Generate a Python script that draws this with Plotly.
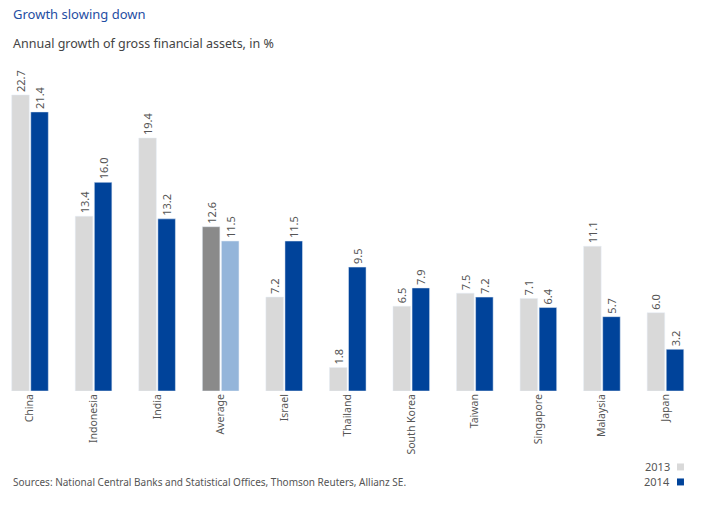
import plotly.graph_objects as go

categories = ["China", "Indonesia", "India", "Average", "Israel", "Thailand",
              "South Korea", "Taiwan", "Singapore", "Malaysia", "Japan"]
values_2013 = [22.7, 13.4, 19.4, 12.6, 7.2, 1.8, 6.5, 7.5, 7.1, 11.1, 6.0]
values_2014 = [21.4, 16.0, 13.2, 11.5, 11.5, 9.5, 7.9, 7.2, 6.4, 5.7, 3.2]
series_names = ["2013", "2014"]

C13, C14 = "#d9d9d9", "#00439a"
AVG13, AVG14 = "#8a8a8a", "#94b5da"
colors_2013 = [AVG13 if c == "Average" else C13 for c in categories]
colors_2014 = [AVG14 if c == "Average" else C14 for c in categories]

FONT = "Noto Sans"
TXT = "#555555"

fig = go.Figure()
fig.add_trace(go.Bar(name=series_names[0], x=categories, y=values_2013, marker_color=colors_2013,
                     texttemplate="%{y:.1f}", textposition="outside", textangle=-90,
                     constraintext="none", cliponaxis=False,
                     textfont=dict(family=FONT, size=11, color=TXT)))
fig.add_trace(go.Bar(name=series_names[1], x=categories, y=values_2014, marker_color=colors_2014,
                     texttemplate="%{y:.1f}", textposition="outside", textangle=-90,
                     constraintext="none", cliponaxis=False,
                     textfont=dict(family=FONT, size=11, color=TXT)))

annotations = [
    dict(text="Growth slowing down", xref="paper", yref="paper", x=0.016, y=1.156,
         xanchor="left", yanchor="middle", showarrow=False,
         font=dict(family=FONT, size=13, color="#1f4ea3")),
    dict(text="Annual growth of gross financial assets, in %", xref="paper", yref="paper",
         x=0.016, y=1.067, xanchor="left", yanchor="middle", showarrow=False,
         font=dict(family=FONT, size=12.5, color="#444444")),
    dict(text="Sources: National Central Banks and Statistical Offices, Thomson Reuters, Allianz SE.",
         xref="paper", yref="paper", x=0.016, y=-0.279, xanchor="left", yanchor="middle",
         showarrow=False, font=dict(family=FONT, size=10, color=TXT)),
]
shapes = []
for name, col, yy in [(series_names[0], C13, -0.233), (series_names[1], C14, -0.279)]:
    annotations.append(dict(text=name, xref="paper", yref="paper", x=0.962, y=yy,
                            xanchor="right", yanchor="middle", showarrow=False,
                            font=dict(family=FONT, size=11, color=TXT)))
    shapes.append(dict(type="rect", xref="paper", yref="paper",
                       x0=0.9685, x1=0.9785, y0=yy - 0.0107, y1=yy + 0.0107,
                       fillcolor=col, line=dict(width=0)))

fig.update_layout(
    width=709, height=506,
    margin=dict(l=0, r=10, t=65, b=115),
    paper_bgcolor="white", plot_bgcolor="white",
    barmode="group", bargap=0.4, bargroupgap=0.08,
    showlegend=False,
    font=dict(family=FONT, color=TXT),
    xaxis=dict(tickangle=-90, showgrid=False, showline=False, ticks="",
               range=[-0.4724, 10.5276],
               tickfont=dict(family=FONT, size=10.5, color=TXT)),
    yaxis=dict(range=[0, 25], visible=False),
    annotations=annotations,
    shapes=shapes,
)

fig.write_html("out.html", config={"displayModeBar": False},
               post_script="document.body.style.margin='0';")
